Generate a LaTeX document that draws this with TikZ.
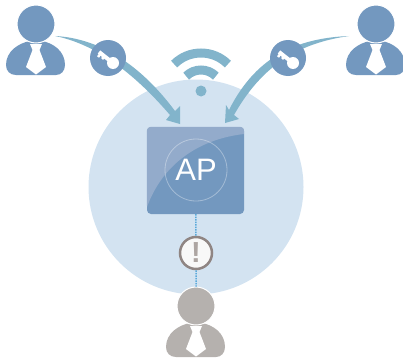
\documentclass[tikz,border=0pt]{standalone}
\usepackage{fontspec}
\setmainfont{Liberation Sans}
\definecolor{userblue}{HTML}{7398BF}
\definecolor{usergray}{HTML}{B5B1AE}
\definecolor{cellblue}{HTML}{D3E3F1}
\definecolor{linkblue}{HTML}{82B4CB}
\definecolor{glossblue}{HTML}{93ABCB}
\definecolor{alertgray}{HTML}{8F8583}
\definecolor{marktgray}{HTML}{ADA5A2}
\definecolor{dotblue}{HTML}{5AA9DA}
\tikzset{
  pics/person/.style={code={
    \fill[#1]
      (-30,41) .. controls (-30,27) and (-17,19) .. (-6,17)
      -- (6,17) .. controls (17,19) and (29,27) .. (29,41)
      .. controls (29,47) and (25,51) .. (20,51)
      -- (-20,51) .. controls (-26,51) and (-30,47) .. (-30,41)
      -- cycle
    ;
    \node[circle, fill=#1, draw=white, line width=1pt, minimum size=38pt, inner sep=0pt] (-head) at (0,0) {};
    \fill[white]
      (-6,20) -- (6,20) -- (3.5,26) -- (10,43) -- (0,50.5) -- (-10,43) -- (-3.5,26) -- cycle
    ;
  }},
  pics/keymark/.style={code={
    \fill[white] (5,5) circle[radius=6pt];
    \draw[white, line width=4pt] (5,5) -- (-9,-6);
    \draw[white, line width=2.5pt] (-7,-5) -- (-10,-1) (-3,-2) -- (-6,1);
  }},
  keydisc/.style={circle, fill=userblue, minimum size=36pt, inner sep=0pt},
  wave/.style={draw=linkblue, line width=9pt},
  link/.style={fill=linkblue}
}
\begin{document}
\begin{tikzpicture}[x=1pt, y=-1pt]
    \useasboundingbox (0,0) rectangle (403,361);

    \node[circle, fill=cellblue, minimum size=215pt, inner sep=0pt] (cell) at (196,187) {};

    \node[circle, fill=linkblue, minimum size=11pt, inner sep=0pt] (dot) at (201,91) {};
    \draw[wave] ([shift={(135:38pt)}]dot.center) arc[start angle=135, end angle=45, radius=38pt];
    \draw[wave] ([shift={(135:21pt)}]dot.center) arc[start angle=135, end angle=45, radius=21pt];

    \coordinate (startL) at (55,36);
    \coordinate (tipL) at (180,124);
    \coordinate (startR) at (349,36);
    \coordinate (tipR) at (225,123);

    \fill[link]
      (startL) .. controls (95,38) and (137,60) .. (175,111)
      -- (180,106) -- (tipL) -- (166,120) -- (170,115)
      .. controls (133,72) and (95,44) .. (startL)
      -- cycle
    ;
    \fill[link]
      (startR) .. controls (308,42) and (266,58) .. (234,115)
      -- (239,119) -- (tipR) -- (226,105) -- (229,110)
      .. controls (258,52) and (303,38) .. (startR)
      -- cycle
    ;

    \node[keydisc] (keyL) at (108,58) {};
    \node[keydisc] (keyR) at (288,58) {};
    \pic at (keyL) {keymark};
    \pic at (keyR) {keymark};

    \pic (userL) at (36,24) {person=userblue};
    \pic (userR) at (376,24) {person=userblue};
    \pic (userB) at (196,306) {person=usergray};

    \node[rectangle, rounded corners=4pt, fill=userblue, minimum width=97pt, minimum height=87pt, inner sep=0pt] (ap) at (195.5,170.5) {};
    \begin{scope}
      \clip[rounded corners=4pt] (ap.north west) rectangle (ap.south east);
      \fill[glossblue]
        (ap.north west) -- (ap.north east) -- (244,134)
        .. controls (200,139) and (163,163) .. (147,207)
        -- cycle
      ;
    \end{scope}
    \node[circle, draw=white, draw opacity=0.35, line width=0.8pt, minimum size=62pt, inner sep=0pt, text=white, font=\fontsize{31}{31}\selectfont] (apmark) at (196,170) {AP};

    \node[circle, fill=white!94!alertgray, draw=alertgray, line width=2.5pt, minimum size=32pt, inner sep=0pt, text=marktgray, font=\fontsize{29}{29}\selectfont\bfseries] (alert) at (196,253) {!};

    \draw[dotblue, densely dotted, line width=1.5pt]
      (ap) -- (alert)
      (alert) -- (userB-head)
    ;
  \end{tikzpicture}
\end{document}
